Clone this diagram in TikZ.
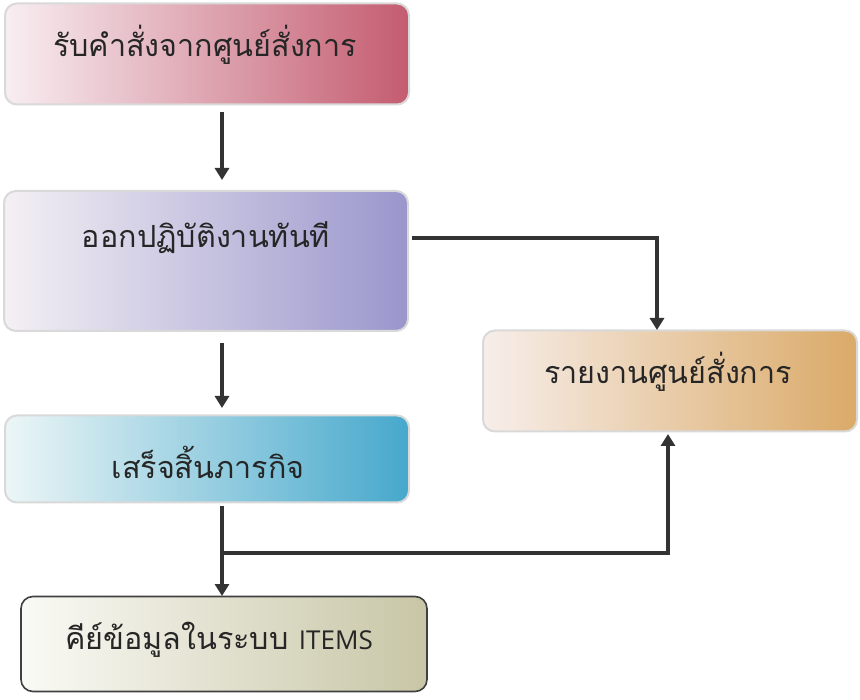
\documentclass[tikz,border=0pt]{standalone}
\usepackage{fontspec}
\newfontfamily\thaifont[Script=Thai]{Loma}
\newfontfamily\latinsans{Open Sans}
\usetikzlibrary{arrows.meta,calc}
\definecolor{arrowc}{HTML}{333333}
\tikzset{
  box/.style={rounded corners=12pt, draw=black!15, line width=2pt, inner sep=0pt},
  lbl/.style={font=\thaifont\fontsize{30.5}{33}\selectfont, text=black!85, inner sep=0pt},
  conn/.style={draw=arrowc, line width=3.2pt, -{Triangle[width=14pt,length=12pt]}},
}
\begin{document}
\begin{tikzpicture}[x=1pt,y=-1pt]
\useasboundingbox (0,0) rectangle (860,700);
\fill[white] (0,0) rectangle (860,700);
% boxes
\node[box, minimum width=404pt, minimum height=101pt, left color={rgb,255:red,248;green,238;blue,242}, middle color={rgb,255:red,232;green,196;blue,210}, right color={rgb,255:red,196;green,92;blue,112}] (b1) at (207,54) {};
\node[box, minimum width=404pt, minimum height=140pt, left color={rgb,255:red,244;green,240;blue,244}, middle color={rgb,255:red,220;green,200;blue,224}, right color={rgb,255:red,154;green,150;blue,204}] (b2) at (206,261) {};
\node[box, minimum width=374pt, minimum height=101pt, left color={rgb,255:red,247;green,238;blue,234}, middle color={rgb,255:red,236;green,204;blue,190}, right color={rgb,255:red,218;green,170;blue,104}] (b3) at (670,381) {};
\node[box, minimum width=404pt, minimum height=87pt, left color={rgb,255:red,236;green,246;blue,246}, middle color={rgb,255:red,170;green,218;blue,226}, right color={rgb,255:red,70;green,168;blue,204}] (b4) at (207,459) {};
\node[box, draw=black!75, line width=1.6pt, minimum width=406pt, minimum height=95pt, left color={rgb,255:red,250;green,250;blue,246}, middle color={rgb,255:red,236;green,236;blue,224}, right color={rgb,255:red,200;green,198;blue,166}] (b5) at (224,644) {};
% labels
\node[lbl] (t1) at (205,45) {รับคำสั่งจากศูนย์สั่งการ};
\node[lbl] (t2) at (206,238) {ออกปฏิบัติงานทันที};
\node[lbl] (t3) at (668,372) {รายงานศูนย์สั่งการ};
\node[lbl] (t4) at (208,462) {เสร็จสิ้นภารกิจ};
\node[lbl] (t5) at (219,640) {คีย์ข้อมูลในระบบ {\latinsans\fontsize{26}{30}\selectfont ITEMS}};
% connector coordinates
\coordinate (a1s) at (222,112);
\coordinate (a1e) at (222,180);
\coordinate (a2s) at (222,343);
\coordinate (a2e) at (222,408);
\coordinate (r1) at (412,238);
\coordinate (r1c) at (657,238);
\coordinate (r1e) at (657,330);
\coordinate (a3s) at (222,506);
\coordinate (j) at (222,553);
\coordinate (a3e) at (222,596);
\coordinate (r2c) at (668,553);
\coordinate (r2e) at (668,434);
% connectors
\draw[conn] (a1s) -- (a1e);
\draw[conn] (a2s) -- (a2e);
\draw[conn] (r1) -- (r1c) -- (r1e);
\draw[conn] (a3s) -- (a3e);
\draw[conn] (j) -- (r2c) -- (r2e);
\end{tikzpicture}
\end{document}
